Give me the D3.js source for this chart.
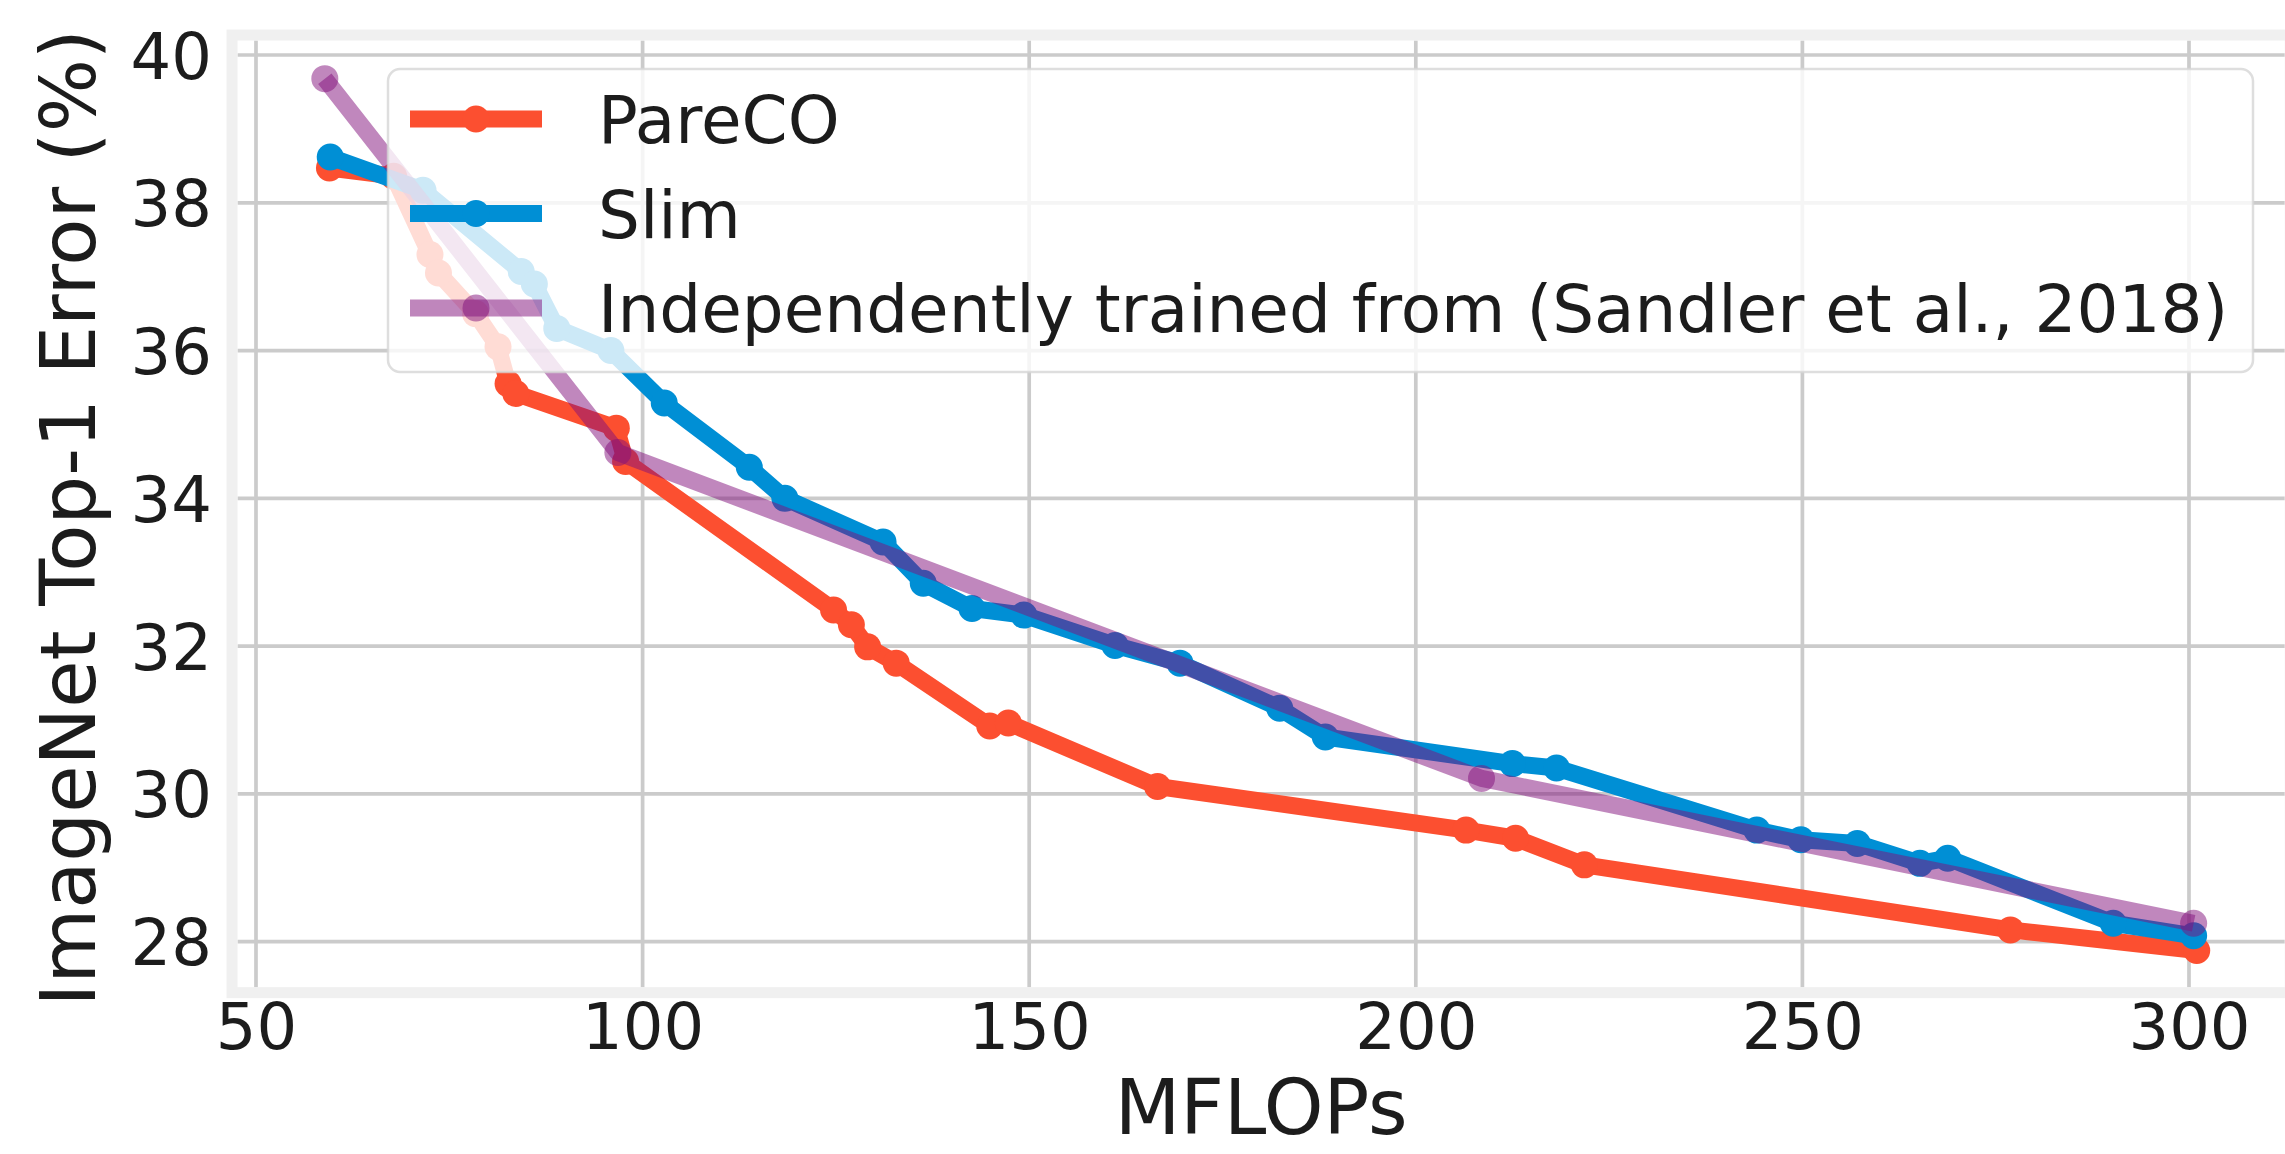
<!DOCTYPE html>
<html><head><meta charset="utf-8">
<script src="https://cdn.jsdelivr.net/npm/d3@7"></script>
<style>
body{margin:0;background:#fff;}
svg{display:block;}
text{font-family:"DejaVu Sans",sans-serif;fill:#1c1c1c;}
</style>
</head><body>
<svg id="chart" width="2285" height="1154"></svg>
<script>
// ---- data ----
const pareX = [59.5, 67.8, 72.5, 73.6, 78.4, 81.3, 82.6, 83.6, 96.6, 97.8, 124.7, 127.0, 129.1, 132.8, 144.9, 147.3, 166.6, 206.5, 212.9, 221.8, 276.9, 301.0];
const pareY = [38.47, 38.36, 37.3, 37.05, 36.5, 36.05, 35.55, 35.42, 34.95, 34.5, 32.49, 32.29, 31.99, 31.77, 30.92, 30.96, 30.1, 29.51, 29.4, 29.04, 28.16, 27.88];

const slimX = [59.6, 71.6, 84.3, 86.0, 88.9, 95.9, 102.8, 113.8, 118.4, 131.1, 136.3, 142.6, 149.3, 161.1, 169.5, 182.4, 188.3, 212.5, 218.2, 244.1, 249.8, 257.1, 265.2, 268.8, 290.2, 300.6];
const slimY = [38.62, 38.17, 37.07, 36.9, 36.3, 36.0, 35.29, 34.42, 34.0, 33.41, 32.85, 32.51, 32.42, 32.01, 31.77, 31.16, 30.77, 30.41, 30.35, 29.51, 29.38, 29.33, 29.06, 29.13, 28.25, 28.08];

const indX = [58.9, 96.8, 208.5, 300.6];
const indY = [39.68, 34.62, 30.21, 28.25];

const seriesNames = ["PareCO", "Slim", "Independently trained from (Sandler et al., 2018)"];
const seriesColors = ["#fc4f30", "#008fd5", "#810f7c"];
const seriesAlpha = [1, 1, 0.5];

const xTicks = [50, 100, 150, 200, 250, 300];
const yTicks = [28, 30, 32, 34, 36, 38, 40];
const xDomain = [46.9, 313.1];
const yDomain = [27.31, 40.27];

const xLabel = "MFLOPs";
const yLabel = "ImageNet Top-1 Error (%)";

// ---- chart ----
const svg = d3.select("#chart");
const x = d3.scaleLinear().domain([50, 300]).range([256, 2189]);
const y = d3.scaleLinear().domain([28, 40]).range([941.7, 55]);

const L = x(xDomain[0]), R = x(xDomain[1]), T = y(yDomain[1]), B = y(yDomain[0]);
const spineW = 11;
const inL = L + spineW/2, inR = R - spineW/2, inT = T + spineW/2, inB = B - spineW/2;

// grid
const grid = svg.append("g");
grid.selectAll("line.gx").data(xTicks).enter().append("line")
  .attr("x1", d => x(d)).attr("x2", d => x(d)).attr("y1", inT).attr("y2", inB)
  .attr("stroke", "#cbcbcb").attr("stroke-width", 3.7);
grid.selectAll("line.gy").data(yTicks).enter().append("line")
  .attr("y1", d => y(d)).attr("y2", d => y(d)).attr("x1", inL).attr("x2", inR)
  .attr("stroke", "#cbcbcb").attr("stroke-width", 3.7);

// spines (thick light-gray frame)
svg.append("rect").attr("x", L).attr("y", T).attr("width", R - L).attr("height", B - T)
  .attr("fill", "none").attr("stroke", "#f0f0f0").attr("stroke-width", spineW);

// axes via d3
const xAxis = d3.axisBottom(x).tickValues(xTicks).tickSize(0).tickPadding(0).tickFormat(d3.format("d"));
const gx = svg.append("g").attr("transform", `translate(0,${B})`).call(xAxis);
gx.select(".domain").remove();
gx.selectAll("text").attr("font-size", 64).attr("dy", null).attr("y", 56)
  .style("font-family", '"DejaVu Sans",sans-serif').attr("fill", "#1c1c1c");

const yAxis = d3.axisLeft(y).tickValues(yTicks).tickSize(0).tickPadding(0).tickFormat(d3.format("d"));
const gy = svg.append("g").attr("transform", `translate(${L},0)`).call(yAxis);
gy.select(".domain").remove();
gy.selectAll("text").attr("font-size", 64).attr("x", -20).attr("dy", "0.36em")
  .style("font-family", '"DejaVu Sans",sans-serif').attr("fill", "#1c1c1c");

// axis labels
svg.append("text").attr("x", (L + R) / 2).attr("y", 1134).attr("text-anchor", "middle")
  .attr("font-size", 76).text(xLabel);
svg.append("text").attr("transform", `translate(95,${(T + B) / 2 + 4}) rotate(-90)`)
  .attr("text-anchor", "middle").attr("font-size", 77).text(yLabel);

// series
const series = [
  {xs: pareX, ys: pareY},
  {xs: slimX, ys: slimY},
  {xs: indX, ys: indY}
];
const line = d3.line().x(d => x(d[0])).y(d => y(d[1]));
const lw = 17, mr = 13.5;
series.forEach((s, i) => {
  const pts = s.xs.map((v, j) => [v, s.ys[j]]);
  const g = svg.append("g");
  g.append("path").attr("d", line(pts)).attr("fill", "none")
    .attr("stroke", seriesColors[i]).attr("stroke-width", lw)
    .attr("stroke-linejoin", "round").attr("stroke-linecap", "butt")
    .attr("opacity", seriesAlpha[i]);
  g.selectAll("circle").data(pts).enter().append("circle")
    .attr("cx", d => x(d[0])).attr("cy", d => y(d[1])).attr("r", mr)
    .attr("fill", seriesColors[i]).attr("opacity", seriesAlpha[i]);
});

// legend
const lg = svg.append("g");
lg.append("rect").attr("x", 388).attr("y", 69).attr("width", 2253 - 388).attr("height", 372 - 69)
  .attr("rx", 12).attr("ry", 12)
  .attr("fill", "#ffffff").attr("fill-opacity", 0.8)
  .attr("stroke", "#d6d6d6").attr("stroke-opacity", 0.8).attr("stroke-width", 2.5);
const rowY = [119, 213.5, 308];
seriesNames.forEach((name, i) => {
  lg.append("line").attr("x1", 410).attr("x2", 542).attr("y1", rowY[i]).attr("y2", rowY[i])
    .attr("stroke", seriesColors[i]).attr("stroke-width", lw).attr("opacity", seriesAlpha[i]);
  lg.append("circle").attr("cx", 476).attr("cy", rowY[i]).attr("r", mr)
    .attr("fill", seriesColors[i]).attr("opacity", seriesAlpha[i]);
  lg.append("text").attr("x", 598).attr("y", rowY[i] + 24).attr("font-size", 66).text(name);
});
</script>
</body></html>
